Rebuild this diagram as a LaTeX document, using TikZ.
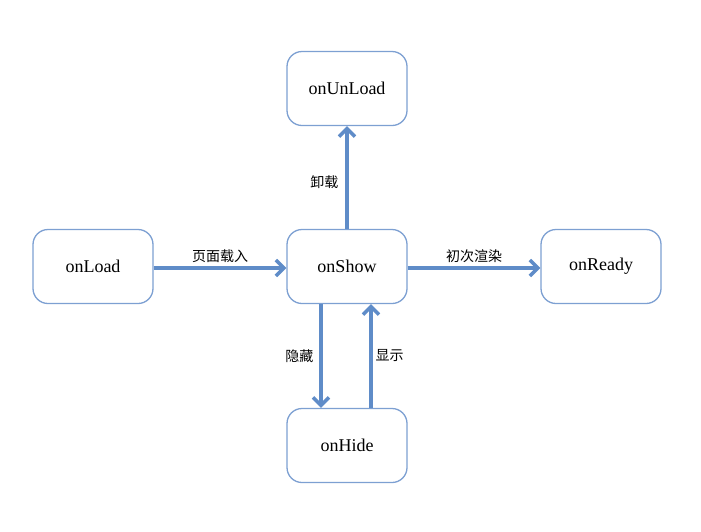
\documentclass[tikz,border=0pt]{standalone}
\usepackage{fontspec}
\setmainfont{Liberation Serif}
\newfontfamily\cjk{Noto Sans CJK SC}
\usetikzlibrary{arrows.meta}
\definecolor{boxblue}{RGB}{125,160,210}
\definecolor{arrblue}{RGB}{95,140,200}
\tikzset{
  x=1pt,y=-1pt,
  state/.style={draw=boxblue, line width=1.3pt, rounded corners=15pt, fill=white,
    minimum width=120pt, minimum height=74pt, inner sep=0pt,
    font=\fontsize{18}{20}\selectfont},
  flow/.style={draw=arrblue, line width=3.3pt, -{Straight Barb[length=8pt,width=16pt,line width=3.5pt]}},
  lbl/.style={font=\cjk\fontsize{14}{16}\selectfont, inner sep=1pt}
}
\begin{document}
\begin{tikzpicture}
\useasboundingbox (0,0) rectangle (701,531);
\node[state] (unload) at (347,88.5) {onUnLoad};
\node[state] (load) at (93,266.5) {onLoad};
\node[state] (show) at (347,266.5) {onShow};
\node[state] (ready) at (601,266.5) {onReady};
\node[state] (hide) at (347,445.5) {onHide};
\draw[flow] (load.east |- 0,268) -- (show.west |- 0,268) node[lbl, midway, above=3pt] {页面载入};
\draw[flow] (show.east |- 0,268) -- (ready.west |- 0,268) node[lbl, midway, above=3pt] {初次渲染};
\draw[flow] (show.north) -- (unload.south) node[lbl, pos=0.45, left=6pt] {卸载};
\draw[flow] (show.south -| 321,0) -- (hide.north -| 321,0) node[lbl, pos=0.5, left=5pt] {隐藏};
\draw[flow] (hide.north -| 371,0) -- (show.south -| 371,0) node[lbl, pos=0.5, right=2pt] {显示};
\end{tikzpicture}
\end{document}
